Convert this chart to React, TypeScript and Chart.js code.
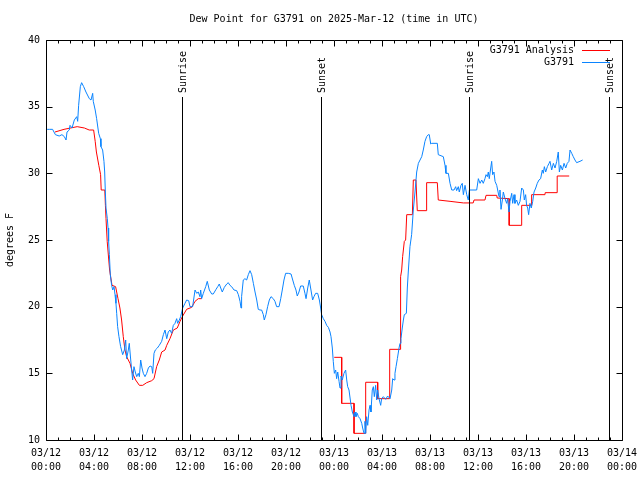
import React, { useEffect, useRef } from 'react';
import { Chart, registerables } from 'chart.js';

Chart.register(...registerables);

const TITLE = 'Dew Point for G3791 on 2025-Mar-12 (time in UTC)';
const Y_TITLE = 'degrees F';
const SERIES_NAMES = ['G3791 Analysis', 'G3791'];
const SERIES_COLORS = ['#ff0000', '#0a84ff'];

const X_TICK_LABELS = [
  ['03/12', '00:00'], ['03/12', '04:00'], ['03/12', '08:00'], ['03/12', '12:00'],
  ['03/12', '16:00'], ['03/12', '20:00'], ['03/13', '00:00'], ['03/13', '04:00'],
  ['03/13', '08:00'], ['03/13', '12:00'], ['03/13', '16:00'], ['03/13', '20:00'],
  ['03/14', '00:00'],
];
const Y_TICKS = [10, 15, 20, 25, 30, 35, 40];

const EVENT_LABELS = ['Sunrise', 'Sunset', 'Sunrise', 'Sunset'];
const EVENT_HOURS = [11.33, 22.92, 35.25, 46.92];

// hours since 03/12 00:00 UTC
const OBS_HOURS = [
  0.1, 0.28, 0.55, 0.78, 1.1, 1.33, 1.53, 1.67, 1.75, 1.94, 2.0, 2.17, 2.36, 2.56, 2.64, 2.72, 2.86, 2.97,
  3.14, 3.33, 3.61, 3.75, 3.89, 3.94, 4.1, 4.22, 4.39, 4.53, 4.58, 4.72, 4.83, 4.89, 4.94, 5.0, 5.11, 5.17,
  5.22, 5.28, 5.36, 5.47, 5.56, 5.67, 5.75, 5.83, 5.89, 5.97, 6.08, 6.22, 6.39, 6.53, 6.64, 6.72, 6.86, 6.94,
  7.06, 7.14, 7.22, 7.33, 7.44, 7.56, 7.69, 7.78, 7.89, 8.0, 8.11, 8.25, 8.39, 8.53, 8.67, 8.81, 8.89, 9.0,
  9.11, 9.28, 9.44, 9.64, 9.78, 9.92, 10.06, 10.19, 10.33, 10.47, 10.61, 10.75, 10.89, 10.97, 11.11, 11.22,
  11.39, 11.58, 11.72, 11.89, 12.0, 12.22, 12.42, 12.56, 12.69, 12.83, 12.89, 12.97, 13.11, 13.31, 13.44,
  13.61, 13.81, 13.94, 14.17, 14.31, 14.44, 14.56, 14.69, 14.86, 15.06, 15.19, 15.33, 15.47, 15.67, 15.89,
  16.03, 16.17, 16.25, 16.3, 16.44, 16.58, 16.72, 16.86, 17.0, 17.14, 17.28, 17.42, 17.56, 17.69, 17.83,
  17.97, 18.11, 18.19, 18.33, 18.47, 18.61, 18.75, 18.94, 19.08, 19.22, 19.42, 19.56, 19.69, 19.83, 19.97,
  20.19, 20.42, 20.56, 20.69, 20.83, 20.94, 21.08, 21.22, 21.44, 21.58, 21.67, 21.81, 21.94, 22.08, 22.22,
  22.33, 22.47, 22.64, 22.78, 22.89, 22.97, 23.11, 23.25, 23.39, 23.53, 23.67, 23.75, 23.86, 23.94, 24.03,
  24.14, 24.22, 24.31, 24.42, 24.5, 24.58, 24.69, 24.83, 24.97, 25.06, 25.14, 25.25, 25.42, 25.53, 25.67,
  25.75, 25.83, 25.94, 26.03, 26.17, 26.31, 26.39, 26.5, 26.58, 26.64, 26.72, 26.81, 26.92, 27.0, 27.08,
  27.19, 27.28, 27.36, 27.47, 27.56, 27.64, 27.75, 27.89, 27.97, 28.11, 28.31, 28.47, 28.67, 28.81, 28.89,
  29.0, 29.08, 29.17, 29.28, 29.42, 29.5, 29.58, 29.69, 29.78, 29.86, 30.03, 30.11, 30.19, 30.33, 30.47,
  30.61, 30.75, 30.89, 31.03, 31.17, 31.31, 31.44, 31.58, 31.72, 31.86, 31.94, 32.06, 32.14, 32.61, 32.69,
  33.11, 33.25, 33.33, 33.53, 33.67, 33.81, 34.0, 34.14, 34.22, 34.36, 34.44, 34.58, 34.69, 34.78, 34.92,
  35.06, 35.19, 35.28, 35.89, 36.03, 36.17, 36.31, 36.44, 36.58, 36.67, 36.78, 36.86, 36.94, 37.06, 37.14,
  37.22, 37.33, 37.42, 37.56, 37.64, 37.75, 37.83, 37.92, 38.03, 38.11, 38.25, 38.39, 38.47, 38.58, 38.67,
  38.81, 38.89, 39.0, 39.08, 39.22, 39.36, 39.5, 39.64, 39.78, 39.86, 39.97, 40.05, 40.14, 40.22, 40.33,
  40.44, 40.56, 40.67, 40.81, 40.94, 41.08, 41.22, 41.36, 41.44, 41.53, 41.64, 41.78, 41.92, 42.0, 42.14,
  42.28, 42.42, 42.56, 42.69, 42.78, 42.89, 43.03, 43.17, 43.31, 43.44, 43.58, 43.67, 43.81, 43.94, 44.08,
  44.22, 44.5, 44.72,
];
const OBS_DEWPOINT = [
  33.3, 33.3, 33.3, 32.9, 32.8, 32.9, 32.75, 32.5, 33.1, 33.25, 33.6, 33.4, 34.0, 34.25, 33.9, 35.1, 36.5, 36.8,
  36.5, 36.1, 35.6, 35.5, 36.0, 35.4, 34.75, 34.1, 33.0, 32.6, 32.0, 31.75, 30.9, 30.1, 28.75, 27.4, 26.6, 25.9,
  24.9, 23.9, 22.4, 21.6, 21.25, 21.5, 20.9, 20.25, 19.5, 18.5, 17.75, 17.0, 16.4, 16.75, 17.5, 16.1, 16.75, 17.25,
  16.0, 15.25, 14.5, 15.5, 15.1, 14.75, 15.0, 14.75, 16.0, 15.4, 15.0, 14.75, 15.0, 15.4, 15.55, 15.5, 15.0, 16.5,
  16.75, 16.9, 17.1, 17.4, 17.9, 18.25, 17.6, 18.1, 18.25, 18.0, 18.6, 18.75, 19.1, 18.75, 19.0, 19.25,
  19.9, 20.25, 20.5, 20.45, 20.0, 20.0, 21.25, 21.0, 21.1, 20.75, 21.25, 20.6, 21.0, 21.5, 21.9,
  21.25, 20.95, 20.95, 21.3, 21.5, 21.7, 21.4, 21.1, 21.45, 21.7, 21.8, 21.6, 21.5, 21.25, 21.2,
  20.9, 20.4, 19.9, 20.75, 22.0, 22.1, 22.0, 22.4, 22.7, 22.4, 21.75, 21.1, 20.5, 19.8, 19.75,
  19.75, 19.4, 19.0, 19.4, 20.0, 20.5, 20.75, 20.6, 20.4, 20.0, 20.0, 20.6, 21.25, 22.0, 22.5,
  22.5, 22.45, 22.0, 21.6, 21.25, 20.8, 21.1, 21.55, 21.55, 21.0, 20.6, 21.4, 22.0, 21.25, 20.5,
  20.75, 21.0, 21.0, 20.5, 19.9, 19.4, 19.1, 18.9, 18.6, 18.45, 18.1, 17.75, 16.9, 15.9, 15.0,
  15.25, 14.6, 15.1, 14.4, 13.9, 14.8, 14.5, 15.0, 15.25, 14.5, 14.0, 13.75, 12.6, 12.1, 11.75,
  12.1, 11.75, 12.0, 11.75, 11.6, 11.25, 10.9, 10.5, 11.4, 10.5, 11.75, 11.1, 12.25, 12.6, 12.1,
  13.75, 14.0, 13.25, 14.1, 13.0, 13.75, 13.1, 12.6, 13.1, 13.25, 13.05, 13.3, 13.1, 13.75, 14.6,
  14.5, 15.0, 15.5, 16.1, 16.9, 17.25, 17.6, 18.4, 19.0, 19.4, 19.5, 21.4, 22.6, 24.5, 25.4,
  27.25, 28.6, 30.1, 30.75, 31.0, 31.25, 31.75, 32.4, 32.75, 32.9, 32.9, 32.2, 32.25, 32.25, 31.4,
  31.25, 30.6, 30.0, 30.0, 29.25, 28.75, 28.75, 29.0, 28.7, 29.0, 28.6, 29.1, 29.25, 28.4, 29.1,
  28.4, 28.0, 28.75, 28.75, 29.6, 29.25, 29.5, 29.25, 29.6, 29.9, 29.75, 30.1, 29.6, 30.4, 30.9,
  29.9, 30.1, 29.4, 29.1, 28.75, 28.25, 28.75, 27.3, 28.0, 28.6, 28.1, 27.75, 28.1, 27.1, 27.9,
  28.5, 27.75, 28.4, 27.75, 28.0, 27.6, 27.9, 28.9, 28.75, 28.0, 28.4, 27.6, 27.4, 26.9, 27.75,
  27.4, 27.9, 28.6, 28.9, 29.25, 29.5, 29.6, 30.25, 30.0, 30.5, 30.1, 30.5, 30.75, 30.9, 30.25,
  30.75, 30.4, 30.9, 31.6, 30.1, 30.6, 30.25, 30.75, 30.4, 30.75, 30.9, 31.75, 31.5, 31.25, 31.0,
  30.8, 30.9, 31.0,
];

// analysis (null = no analysis available)
const ANALYSIS_HOURS = [
  0.75, 1.5, 2.6, 3.2, 3.6, 3.97, 4.1, 4.2, 4.4, 4.55, 4.6, 4.9, 4.95, 5.0, 5.1, 5.3, 5.5, 5.8, 6.0, 6.16,
  6.3, 6.44, 6.58, 6.72, 7.0, 7.22, 7.47, 7.78, 8.06, 8.39, 8.81, 9.0, 9.22, 9.44, 9.64, 9.92, 10.06, 10.33,
  10.61, 10.94, 11.17, 11.39, 11.72, 12.14, 12.42, 12.69, 12.97,
  18.0,
  24.02, 24.64, 24.64, 25.67, 25.67, 26.64, 26.64, 27.64, 27.64, 28.64, 28.64, 29.5, 29.55, 29.64, 29.72,
  29.86, 29.97, 30.06, 30.53, 30.61, 30.83, 30.94, 31.67, 31.72, 32.61, 32.69, 33.67, 34.78, 35.6, 35.67,
  36.58, 36.67, 37.56, 37.6, 38.6, 38.6, 39.64, 39.64, 40.47, 40.47, 41.58, 41.6, 42.6, 42.6, 43.6,
];
const ANALYSIS_DEWPOINT = [
  33.1, 33.3, 33.5, 33.4, 33.25, 33.25, 32.4, 31.6, 30.6, 29.9, 28.75, 28.75, 27.6, 26.6, 24.9, 22.75, 21.6, 21.5, 20.6, 19.9,
  19.0, 17.75, 16.75, 16.25, 15.75, 15.0, 14.5, 14.1, 14.1, 14.3, 14.45, 14.6, 15.5, 16.0, 16.6, 16.75, 17.1, 17.6,
  18.25, 18.4, 18.9, 19.3, 19.8, 19.95, 20.4, 20.6, 20.6,
  null,
  16.2, 16.2, 12.75, 12.75, 10.5, 10.5, 14.33, 14.33, 13.1, 13.1, 16.8, 16.8, 22.25, 22.75, 23.75,
  24.9, 25.0, 26.9, 26.9, 29.5, 29.5, 27.2, 27.2, 29.3, 29.3, 28.0, 27.9, 27.78, 27.78, 28.0,
  28.0, 28.35, 28.35, 28.15, 28.1, 26.1, 26.1, 27.6, 27.6, 28.4, 28.4, 28.55, 28.55, 29.8, 29.8,
];

const FONT = '"DejaVu Sans Mono", "Liberation Mono", monospace';

const gnuplotFrame = {
  id: 'gnuplotFrame',
  afterDraw(chart: any) {
    const { ctx, chartArea, scales } = chart;
    const { left, right, top, bottom } = chartArea;
    const x = scales.x;
    const y = scales.y;
    const L = Math.round(left) + 0.5;
    const R = Math.round(right) + 0.5;
    const T = Math.round(top) + 0.5;
    const B = Math.round(bottom) + 0.5;
    ctx.save();
    ctx.strokeStyle = '#000';
    ctx.lineWidth = 1;
    ctx.beginPath();
    ctx.rect(L, T, R - L, B - T);
    ctx.stroke();

    // x ticks (major every 4 h, minor every hour), mirrored on top
    ctx.beginPath();
    for (let h = 0; h <= 48; h++) {
      const xp = Math.round(x.getPixelForValue(h)) + 0.5;
      const len = h % 4 === 0 ? 6 : 3;
      ctx.moveTo(xp, B);
      ctx.lineTo(xp, B - len);
      ctx.moveTo(xp, T);
      ctx.lineTo(xp, T + len);
    }
    for (const v of Y_TICKS) {
      const yp = Math.round(y.getPixelForValue(v)) + 0.5;
      ctx.moveTo(L, yp);
      ctx.lineTo(L + 6, yp);
      ctx.moveTo(R, yp);
      ctx.lineTo(R - 6, yp);
    }
    ctx.stroke();

    // sunrise / sunset markers
    ctx.font = `10px ${FONT}`;
    ctx.fillStyle = '#000';
    EVENT_HOURS.forEach((h, i) => {
      const xp = Math.round(x.getPixelForValue(h)) + 0.5;
      ctx.beginPath();
      ctx.moveTo(xp, 97);
      ctx.lineTo(xp, B);
      ctx.stroke();
      ctx.save();
      ctx.translate(xp + 0.5, 93);
      ctx.rotate(-Math.PI / 2);
      ctx.textAlign = 'left';
      ctx.textBaseline = 'middle';
      ctx.fillText(EVENT_LABELS[i], 0, 0);
      ctx.restore();
    });

    // title
    ctx.textAlign = 'center';
    ctx.textBaseline = 'middle';
    ctx.fillText(TITLE, (left + right) / 2, 19);

    // y title
    ctx.save();
    ctx.translate(10, 240);
    ctx.rotate(-Math.PI / 2);
    ctx.fillText(Y_TITLE, 0, 0);
    ctx.restore();

    // legend
    ctx.textAlign = 'right';
    SERIES_NAMES.forEach((name, i) => {
      const yy = 50 + i * 12;
      ctx.fillStyle = '#000';
      ctx.fillText(name, 574, yy);
      ctx.strokeStyle = SERIES_COLORS[i];
      ctx.beginPath();
      ctx.moveTo(582, yy + 0.5);
      ctx.lineTo(610, yy + 0.5);
      ctx.stroke();
    });
    ctx.restore();
  },
};

export default function App() {
  const ref = useRef<HTMLCanvasElement>(null);

  useEffect(() => {
    if (!ref.current) return;
    const analysis = ANALYSIS_HOURS.map((h, i) => ({ x: h, y: ANALYSIS_DEWPOINT[i] }));
    const obs = OBS_HOURS.map((h, i) => ({ x: h, y: OBS_DEWPOINT[i] }));
    const chart = new Chart(ref.current, {
      type: 'line',
      data: {
        datasets: [
          {
            label: SERIES_NAMES[0],
            data: analysis as any,
            borderColor: SERIES_COLORS[0],
            borderWidth: 1,
            pointRadius: 0,
            tension: 0,
            spanGaps: false,
            order: 2,
          },
          {
            label: SERIES_NAMES[1],
            data: obs as any,
            borderColor: SERIES_COLORS[1],
            borderWidth: 1,
            pointRadius: 0,
            tension: 0,
            order: 1,
          },
        ],
      },
      options: {
        animation: false,
        responsive: false,
        maintainAspectRatio: false,
        events: [],
        layout: { padding: { top: 40, right: 18, left: 0, bottom: 0 } },
        plugins: {
          legend: { display: false },
          title: { display: false },
          tooltip: { enabled: false },
        },
        scales: {
          x: {
            type: 'linear',
            min: 0,
            max: 48,
            grid: { display: false, drawTicks: false },
            border: { display: false },
            afterFit: (s: any) => { s.height = 40; s.paddingLeft = 0; s.paddingRight = 0; },
            ticks: {
              stepSize: 4,
              autoSkip: false,
              maxRotation: 0,
              minRotation: 0,
              padding: 6,
              color: '#000',
              font: { family: FONT, size: 10, lineHeight: 1.4 },
              callback: (v: any) => X_TICK_LABELS[Math.round(Number(v) / 4)],
            },
          },
          y: {
            type: 'linear',
            min: 10,
            max: 40,
            grid: { display: false, drawTicks: false },
            border: { display: false },
            afterFit: (s: any) => { s.width = 46; s.paddingTop = 0; s.paddingBottom = 0; },
            ticks: {
              stepSize: 5,
              padding: 6,
              color: '#000',
              font: { family: FONT, size: 10 },
              callback: (v: any) => String(v),
            },
          },
        },
      },
      plugins: [gnuplotFrame],
    });
    return () => chart.destroy();
  }, []);

  return (
    <div style={{ position: 'absolute', left: 0, top: 0, width: 640, height: 480, background: '#fff' }}>
      <canvas ref={ref} width={640} height={480} style={{ display: 'block' }} />
    </div>
  );
}
